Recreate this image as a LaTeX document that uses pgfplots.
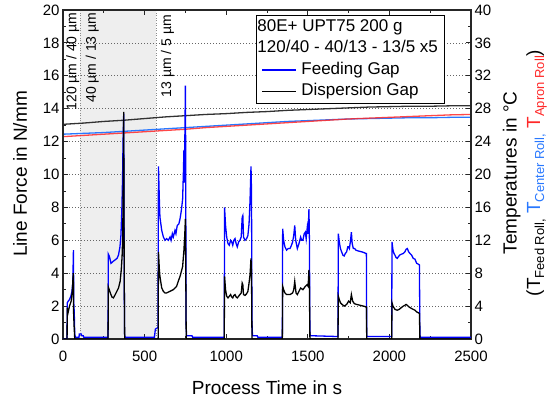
\documentclass[border=0pt]{standalone}
\usepackage{pgfplots}
\pgfplotsset{compat=1.18}
\usepackage{fontspec}
\setmainfont{Liberation Sans}
\definecolor{tblue}{RGB}{40,120,255}
\definecolor{tred}{RGB}{255,40,40}
\definecolor{tgray}{RGB}{50,50,50}
\definecolor{shade}{RGB}{238,238,238}
\definecolor{fblue}{RGB}{0,0,255}
\newcommand{\sub}[1]{\raisebox{-0.4ex}{\fontsize{13}{13}\selectfont #1}}
\pgfplotsset{
  base/.style={at={(0pt,0pt)}, anchor=south west, scale only axis,
    width=408pt, height=329pt, xmin=0, xmax=2500},
  frame/.style={axis line style={black!85, line width=1.1pt},
    tick style={black!85, line width=0.8pt},
    major tick length=5pt, minor tick length=3pt, tick align=inside,
    /pgf/number format/assume math mode=true,
    /pgf/number format/1000 sep={},
    ticklabel style={font=\fontsize{15}{15}\selectfont}},
}
\begin{document}
\begin{tikzpicture}
\useasboundingbox (-63pt,-62pt) rectangle (489pt,339pt);
% shaded region
\begin{axis}[base, ymin=0, ymax=20, hide axis]
\addplot[fill=shade, draw=none] coordinates {(104,20) (570,20)} \closedcycle;
\addplot[gray!90, dash pattern=on 1pt off 1.5pt, line width=0.7pt] coordinates {(104,0) (104,20)};
\addplot[gray!90, dash pattern=on 1pt off 1.5pt, line width=0.7pt] coordinates {(570,0) (570,20)};
\end{axis}
% temperature axis
\begin{axis}[base, frame, ymin=0, ymax=40, ytick={0,4,...,40}, minor y tick num=1,
  ytick pos=right, yticklabel pos=right, xtick=\empty,
  ymajorgrids, grid style={black!60, dash pattern=on 1.3pt off 1.7pt, line width=0.7pt}]
\addplot[tgray, line width=1.3pt] coordinates {(0,26.1) (125,26.25) (250,26.45) (375,26.6) (500,26.8) (625,27.0) (750,27.15) (875,27.3) (1000,27.4) (1125,27.55) (1250,27.65) (1375,27.8) (1500,27.9) (1625,28.0) (1750,28.1) (1875,28.2) (2000,28.25) (2125,28.3) (2250,28.3) (2375,28.35) (2500,28.35)};
\addplot[tblue, line width=1.3pt] coordinates {(0,24.9) (125,25.0) (250,25.1) (375,25.25) (500,25.4) (625,25.55) (750,25.7) (875,25.85) (1000,26.0) (1125,26.15) (1250,26.3) (1375,26.45) (1500,26.55) (1625,26.65) (1750,26.75) (1875,26.8) (2000,26.85) (2125,26.9) (2250,26.9) (2375,26.95) (2500,26.95)};
\addplot[tred, opacity=0.85, line width=1.3pt] coordinates {(0,24.6) (125,24.75) (250,24.9) (375,25.05) (500,25.2) (625,25.35) (750,25.5) (875,25.7) (1000,25.85) (1125,26.0) (1250,26.15) (1375,26.3) (1500,26.45) (1625,26.6) (1750,26.75) (1875,26.85) (2000,26.95) (2125,27.05) (2250,27.15) (2375,27.25) (2500,27.3)};
\end{axis}
% force axis
\begin{axis}[base, frame, ymin=0, ymax=20, ytick={0,2,...,20}, minor y tick num=1,
  ytick pos=left, xtick={0,500,...,2500}, minor x tick num=1, xtick pos=both,
  xticklabel pos=lower, scaled x ticks=false,
  xticklabel style={yshift=-8pt},
  legend style={at={(rel axis cs:0.473,0.985)}, anchor=north west, draw=black, line width=0.9pt,
    fill=white, font=\fontsize{17}{17}\selectfont, inner xsep=5pt, inner ysep=2pt,
    nodes={inner sep=1.5pt, text height=12.5pt, text depth=4pt}, row sep=2pt,
    column sep=3pt},
  legend cell align=left,
  legend image code/.code={\draw[#1, line width=1.5pt] (0pt,0pt) -- (34pt,0pt);}]
\addlegendimage{empty legend}
\addlegendentry{\hspace{-44pt}80E+ UPT75 200 g}
\addlegendimage{empty legend}
\addlegendentry{\hspace{-44pt}120/40 - 40/13 - 13/5 x5}
\addplot[fblue, line width=1.3pt] coordinates {
(0,0) (25,0) (26,2.2) (32,2.3) (40,2.4) (48,2.6) (55,2.9) (60,3.4) (64,5.4) (66,2.2) (69,1.6) (72,0.3) (76,0.1) (98,0.1) (100,0.3) (112,0.3) (115,0.2) (124,0.2) (128,0.1) (276,0.1)
(278,5.15) (285,5.0) (294,4.6) (305,4.7) (318,4.8) (331,4.9) (340,5.1) (349,5.6) (355,6.3) (361,8.0) (365,9.8) (368,12.0) (372,13.7) (375,5.0) (377,0.3) (380,0.1) (560,0.1) (566,0.6) (582,0.7)
(585,10.5) (590,8.6) (594,7.4) (605,6.6) (615,6.2) (625,6.0) (635,6.1) (645,6.0) (656,6.2) (662,6.0) (670,6.4) (676,6.2) (686,6.6) (692,6.4) (700,6.9) (710,7.0) (717,7.3) (725,7.8) (733,8.5) (738,10.2) (741,11.5) (744,9.5) (747,12.5) (750,15.4) (752,10.5) (754,1.0) (757,0.2) (790,0.2) (795,0.1) (988,0.1)
(990,8.0) (996,6.9) (1003,6.2) (1011,5.8) (1019,5.7) (1027,6.0) (1034,5.9) (1040,5.7) (1047,6.0) (1054,6.1) (1061,5.8) (1068,5.6) (1076,5.9) (1084,6.0) (1092,6.2) (1098,7.4) (1102,7.5) (1106,6.2) (1115,6.0) (1125,6.1) (1133,6.3) (1140,7.0) (1146,8.4) (1152,10.5) (1155,9.0) (1158,1.0) (1161,0.2) (1190,0.2) (1195,0.1) (1344,0.1)
(1346,6.7) (1352,6.0) (1360,5.6) (1370,5.4) (1380,5.5) (1391,5.5) (1400,5.7) (1407,5.9) (1414,6.3) (1420,6.9) (1426,6.0) (1436,5.5) (1446,5.8) (1456,6.2) (1463,6.0) (1470,6.0) (1478,6.4) (1485,6.5) (1490,6.1) (1497,6.8) (1502,6.4) (1507,7.9) (1510,6.0) (1513,0.3) (1516,0.2) (1685,0.15)
(1687,6.4) (1693,5.9) (1700,5.5) (1707,5.3) (1715,5.1) (1723,5.05) (1730,5.2) (1738,5.3) (1745,5.6) (1750,5.6) (1755,5.5) (1762,6.0) (1767,6.5) (1772,5.8) (1779,5.5) (1787,5.5) (1795,5.4) (1810,5.35) (1830,5.3) (1845,5.25) (1856,5.2) (1859,5.2) (1861,0.2) (1864,0.15) (2014,0.15)
(2016,5.9) (2022,5.4) (2028,5.2) (2034,5.1) (2041,4.95) (2048,4.9) (2055,5.0) (2063,5.1) (2072,5.15) (2085,5.2) (2095,5.3) (2102,5.45) (2110,5.5) (2118,5.3) (2126,5.2) (2136,5.1) (2146,4.9) (2157,4.85) (2167,4.6) (2177,4.55) (2184,4.5) (2187,0.2) (2190,0.1) (2500,0.1)};
\addlegendentry{Feeding Gap}
\addplot[black, line width=1.3pt] coordinates {
(0,0) (25,0) (26,1.9) (31,1.6) (40,2.0) (50,2.3) (57,2.9) (63,4.0) (65,1.6) (68,0.8) (72,0) (276,0)
(278,3.15) (290,2.8) (300,2.55) (309,2.5) (320,2.7) (330,2.9) (340,3.1) (350,3.5) (357,4.2) (362,5.0) (366,6.2) (369,9.5) (372,13.8) (375,4.0) (378,0) (583,0)
(585,5.3) (590,4.3) (594,3.8) (605,3.1) (615,2.9) (625,2.8) (635,2.8) (645,2.85) (656,2.9) (666,2.95) (676,3.0) (686,3.1) (696,3.2) (706,3.5) (717,3.8) (725,4.1) (733,4.4) (741,5.4) (746,6.3) (750,7.3) (753,3.0) (755,0) (988,0)
(990,3.8) (996,3.0) (1003,2.6) (1011,2.5) (1019,2.6) (1027,2.7) (1034,2.55) (1040,2.5) (1047,2.65) (1054,2.7) (1061,2.55) (1068,2.5) (1076,2.6) (1084,2.7) (1092,2.8) (1098,3.4) (1102,3.3) (1106,2.7) (1115,2.65) (1125,2.75) (1133,2.9) (1140,3.4) (1146,3.9) (1152,4.9) (1155,4.0) (1158,0) (1344,0)
(1346,3.2) (1352,3.0) (1360,2.8) (1370,2.7) (1391,2.7) (1407,2.8) (1414,3.0) (1420,3.5) (1428,2.8) (1436,2.7) (1446,2.9) (1456,3.1) (1470,3.0) (1485,3.2) (1495,3.3) (1502,3.2) (1507,4.2) (1510,3.0) (1513,0) (1685,0)
(1687,2.6) (1693,2.4) (1700,2.2) (1710,2.1) (1723,2.0) (1738,2.1) (1750,2.3) (1760,2.2) (1767,2.7) (1775,2.3) (1785,2.15) (1800,2.1) (1820,2.05) (1840,2.0) (1859,1.95) (1861,0) (2014,0)
(2016,2.2) (2022,2.0) (2034,1.8) (2048,1.75) (2060,1.8) (2072,1.9) (2085,2.0) (2095,2.05) (2102,2.1) (2110,2.05) (2120,1.95) (2136,1.85) (2146,1.8) (2157,1.75) (2167,1.65) (2177,1.6) (2184,1.55) (2187,0) (2500,0)};
\addlegendentry{Dispersion Gap}
\node[rotate=90, anchor=east, inner sep=0pt, font=\fontsize{14}{14}\selectfont] at (axis cs:60,19.85) {120 µm / 40 µm};
\node[rotate=90, anchor=east, inner sep=0pt, font=\fontsize{14}{14}\selectfont] at (axis cs:179,19.85) {40 µm / 13 µm};
\node[rotate=90, anchor=east, inner sep=0pt, font=\fontsize{14}{14}\selectfont] at (axis cs:640,19.7) {13 µm / 5 µm};
\end{axis}
\node[font=\fontsize{19}{19}\selectfont] at (204pt,-49pt) {Process Time in s};
\node[rotate=90, font=\fontsize{19}{19}\selectfont] at (-43pt,165pt) {Line Force in N/mm};
\node[rotate=90, font=\fontsize{19}{19}\selectfont] at (448.7pt,166pt) {Temperatures in °C};
\node[rotate=90, font=\fontsize{19}{19}\selectfont] at (473.7pt,166pt) {(T\sub{Feed Roll,} \textcolor{tblue}{T\sub{Center Roll,}} \textcolor{tred}{T\sub{Apron Roll}})};
\end{tikzpicture}
\end{document}
